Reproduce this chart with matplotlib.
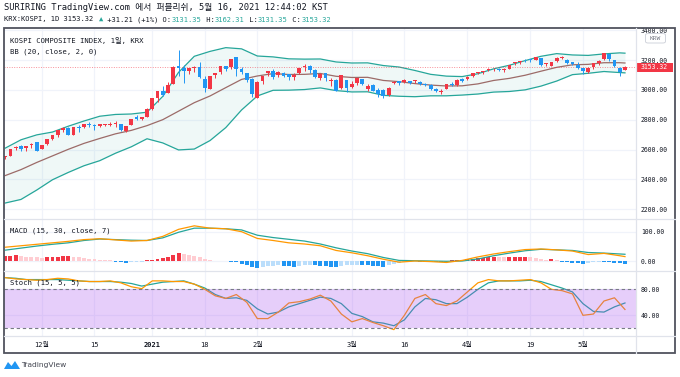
import matplotlib
matplotlib.use('Agg')
import matplotlib.pyplot as plt
from matplotlib.patches import Rectangle, FancyBboxPatch, Polygon
from matplotlib.lines import Line2D

W, H = 680, 377
MONO = ['DejaVu Sans Mono', 'Noto Sans CJK KR']
plt.rcParams['font.family'] = MONO

# ---------------- data ----------------
nov = [20, 23, 24, 25, 26, 27, 30]
dec = [1, 2, 3, 4, 7, 8, 9, 10, 11, 14, 15, 16, 17, 18, 21, 22, 23, 24, 28, 29, 30]
jan = [4, 5, 6, 7, 8, 11, 12, 13, 14, 15, 18, 19, 20, 21, 22, 25, 26, 27, 28, 29]
feb = [1, 2, 3, 4, 5, 8, 9, 10, 15, 16, 17, 18, 19, 22, 23, 24, 25, 26]
mar = [2, 3, 4, 5, 8, 9, 10, 11, 12, 15, 16, 17, 18, 19, 22, 23, 24, 25, 26, 29, 30, 31]
apr = [1, 2, 5, 6, 7, 8, 9, 12, 13, 14, 15, 16, 19, 20, 21, 22, 23, 26, 27, 28, 29, 30]
may = [3, 4, 6, 7, 10, 11, 12, 13, 14]
dates = ([f'2020-11-{d:02d}' for d in nov] + [f'2020-12-{d:02d}' for d in dec]
         + [f'2021-01-{d:02d}' for d in jan] + [f'2021-02-{d:02d}' for d in feb]
         + [f'2021-03-{d:02d}' for d in mar] + [f'2021-04-{d:02d}' for d in apr]
         + [f'2021-05-{d:02d}' for d in may])

opens = [2548, 2560, 2612, 2626, 2608, 2630, 2648, 2606, 2637, 2673,
         2696, 2731, 2746, 2700, 2755, 2751, 2775, 2766, 2760, 2768,
         2765, 2770, 2770, 2727, 2765, 2820, 2806, 2820, 2874, 2943,
         2993, 2980, 3040, 3161, 3145, 3128, 3145, 3153, 3071, 3010,
         3099, 3120, 3163, 3155, 3218, 3140, 3112, 3074, 2946, 3063,
         3111, 3130, 3098, 3114, 3108, 3085, 3114, 3155, 3162, 3132,
         3083, 3112, 3060, 3070, 3013, 3069, 3018, 3045, 3075, 3010,
         3034, 2997, 2998, 2964, 3049, 3057, 3052, 3058, 3060, 3052,
         3036, 3032, 3005, 2988, 3009, 3042, 3036, 3074, 3071, 3091,
         3117, 3124, 3133, 3138, 3143, 3133, 3143, 3180, 3186, 3201,
         3206, 3203, 3213, 3176, 3162, 3193, 3214, 3203, 3187, 3171,
         3146, 3121, 3151, 3180, 3206, 3239, 3198, 3150, 3131.35]
highs = [2560, 2603, 2624, 2632, 2626, 2643, 2648, 2634, 2673, 2696,
         2731, 2750, 2750, 2755, 2762, 2770, 2783, 2770, 2772, 2775,
         2786, 2790, 2771, 2761, 2806, 2834, 2822, 2878, 2946, 2990,
         3027, 3055, 3161, 3266, 3167, 3150, 3160, 3189, 3096, 3092,
         3115, 3160, 3163, 3209, 3220, 3157, 3112, 3080, 3057, 3097,
         3130, 3138, 3125, 3124, 3108, 3111, 3148, 3173, 3165, 3138,
         3111, 3117, 3083, 3071, 3099, 3070, 3057, 3083, 3076, 3038,
         3038, 3014, 3006, 3017, 3060, 3060, 3071, 3061, 3066, 3057,
         3044, 3038, 3013, 3010, 3041, 3051, 3075, 3079, 3095, 3115,
         3123, 3130, 3147, 3145, 3147, 3145, 3170, 3187, 3195, 3205,
         3208, 3221, 3213, 3180, 3190, 3222, 3228, 3207, 3190, 3188,
         3147, 3151, 3178, 3198, 3249, 3239, 3200, 3151, 3162.31]
lows = [2540, 2555, 2600, 2593, 2594, 2613, 2591, 2601, 2632, 2664,
        2686, 2720, 2695, 2695, 2720, 2745, 2753, 2732, 2751, 2757,
        2756, 2752, 2727, 2720, 2763, 2799, 2796, 2819, 2869, 2921,
        2961, 2980, 3040, 3096, 3047, 3105, 3118, 3083, 2988, 3005,
        3080, 3109, 3125, 3141, 3097, 3104, 3052, 2955, 2946, 3043,
        3097, 3075, 3086, 3084, 3067, 3066, 3107, 3128, 3115, 3079,
        3070, 3062, 3030, 2990, 3010, 2987, 3012, 3034, 3036, 2993,
        2992, 2950, 2946, 2957, 3042, 3033, 3045, 3041, 3048, 3032,
        3026, 3001, 2987, 2970, 3006, 3026, 3030, 3055, 3066, 3090,
        3106, 3108, 3130, 3125, 3129, 3120, 3140, 3170, 3177, 3190,
        3187, 3199, 3162, 3158, 3162, 3187, 3205, 3173, 3168, 3144,
        3105, 3112, 3144, 3170, 3202, 3192, 3156, 3096, 3131.35]
closes = [2553, 2602, 2617, 2601, 2625, 2633, 2591, 2634, 2672, 2696,
          2731, 2745, 2700, 2755, 2746, 2770, 2762, 2756, 2771, 2770,
          2772, 2778, 2733, 2759, 2806, 2808, 2820, 2873, 2944, 2990,
          2968, 3031, 3152, 3148, 3125, 3148, 3149, 3085, 3013, 3092,
          3114, 3160, 3140, 3208, 3140, 3122, 3069, 2976, 3056, 3096,
          3129, 3087, 3120, 3091, 3084, 3100, 3147, 3163, 3133, 3086,
          3107, 3079, 3070, 2994, 3099, 3012, 3043, 3082, 3043, 3026,
          2996, 2976, 2958, 3013, 3054, 3045, 3067, 3047, 3066, 3039,
          3035, 3004, 2996, 2996, 3041, 3036, 3070, 3061, 3087, 3112,
          3120, 3127, 3137, 3143, 3131, 3135, 3169, 3182, 3194, 3198,
          3198, 3220, 3171, 3177, 3186, 3217, 3215, 3181, 3174, 3147,
          3127, 3147, 3178, 3197, 3249, 3209, 3161, 3122, 3153.32]

# Bollinger (20, 2) read every 3rd bar
bb_at = list(range(0, 118, 3)) + [118]
bb_basis = [2426, 2466, 2514, 2558, 2602, 2642, 2675, 2706, 2729, 2761,
            2801, 2858, 2915, 2960, 3016, 3071, 3094, 3110, 3104, 3105,
            3111, 3092, 3084, 3085, 3064, 3056, 3043, 3033, 3027, 3028,
            3041, 3064, 3078, 3099, 3126, 3152, 3169, 3172, 3183, 3183, 3181]
bb_upper = [2610, 2666, 2699, 2718, 2757, 2792, 2824, 2836, 2839, 2851,
            2957, 3118, 3226, 3259, 3284, 3276, 3228, 3222, 3209, 3207,
            3208, 3188, 3181, 3182, 3164, 3154, 3131, 3105, 3093, 3090,
            3109, 3142, 3166, 3197, 3226, 3244, 3235, 3232, 3242, 3249, 3247]
bb_lower = [2242, 2266, 2329, 2398, 2447, 2492, 2526, 2576, 2619, 2673,
            2645, 2598, 2604, 2661, 2748, 2866, 2960, 2998, 2999, 3003,
            3014, 2996, 2987, 2988, 2964, 2958, 2955, 2961, 2961, 2966,
            2973, 2986, 2990, 3001, 3026, 3060, 3103, 3112, 3124, 3117, 3115]

# MACD (15, 30, 7)
macd_line = [47, 52, 57, 62, 67, 73, 76, 72, 68, 70,
             84, 108, 120, 112, 110, 100, 77, 70, 62, 58,
             52, 36, 28, 18, 6, -4, 0, -2, -5, 2,
             14, 24, 32, 39, 41, 38, 34, 22, 26, 18, 15]
macd_signal = [37, 44, 51, 57, 62, 70, 75, 73, 71, 70,
               79, 98, 112, 112, 110, 106, 88, 80, 74, 68,
               58, 45, 34, 25, 12, 2, 1, 0, -1, 0,
               7, 18, 27, 35, 40, 38, 36, 29, 27, 24, 23]
macd_hist = [16, 18, 19, 18, 15, 14, 12, 11, 12, 14,
             15, 16, 18, 15, 12, 9, 8, 6, 5, 3,
             2, -2, -4, -6, -5, -3, -2, 2, 5, 8,
             11, 15, 21, 26, 25, 22, 18, 12, 6, 2,
             1, 0.5, -1, -2, -5, -9, -15, -20, -23, -21,
             -18, -16, -15, -16, -18, -19, -18, -15, -13, -15,
             -16, -18, -19, -21, -18, -15, -13, -12, -13, -15,
             -16, -18, -19, -14, -9, -6, -3, -2, 1, -2,
             -2.5, -3, -4, -4.5, -3, 2, 3, 5, 6, 8,
             9, 11, 12, 13, 12.5, 12, 12.5, 13, 14, 15,
             13, 10, 7, 5, 6, 3, -2, -4, -6, -8,
             -10, -8, -5, -3, -4, -5, -6, -8, -9]

# Stoch (15, 5, 5) read every 2nd bar
st_at = list(range(0, 119, 2))
stoch_k = [98, 96, 95, 94, 95, 97, 96, 93, 92, 92,
           93, 90, 84, 81, 93, 93, 92, 92, 88, 80,
           70, 66, 72, 60, 35, 35, 45, 59, 61, 65,
           71, 62, 42, 30, 35, 29, 24, 18, 40, 66,
           72, 58, 55, 62, 76, 90, 95, 93, 93, 94,
           95, 90, 80, 78, 73, 40, 42, 62, 67, 49]
stoch_d = [98, 97, 95, 95, 95, 95, 94, 93, 92, 92,
           92, 91, 89, 85, 88, 91, 92, 93, 88, 82,
           72, 66, 67, 63, 50, 42, 45, 53, 58, 63,
           68, 66, 58, 43, 38, 30, 28, 24, 33, 53,
           66, 64, 58, 58, 68, 80, 90, 93, 93, 93,
           94, 92, 87, 82, 76, 58, 46, 45, 53, 59]

tick_dates = ['2020-12-01', '2020-12-15', '2021-01-04', '2021-01-18', '2021-02-01',
              '2021-03-02', '2021-03-16', '2021-04-01', '2021-04-19', '2021-05-03']
tick_labels = ['12월', '15', '2021', '18', '2월', '3월', '16', '4월', '19', '5월']
price_ticks = [2200, 2400, 2600, 2800, 3000, 3200, 3400]
macd_ticks = [0, 100]
stoch_ticks = [40, 80]

# ---------------- styles ----------------
UP, DOWN = '#f23645', '#2196f3'
TEAL, ORANGE, BASIS = '#26a69a', '#ff9800', '#9c6b68'
GRID, SEP, TXT = '#f0f3fa', '#e0e3eb', '#131722'
LEFT, RIGHT, FRAME_R = 4, 636, 675

fig = plt.figure(figsize=(W / 100, H / 100), dpi=100)
fig.patch.set_facecolor('white')
xs = list(range(len(dates)))
tick_pos = [dates.index(d) for d in tick_dates]


def fig_y(y):
    return 1 - y / H


def panel(top, bottom, ylim, yticks):
    ax = fig.add_axes([LEFT / W, fig_y(bottom), (RIGHT - LEFT) / W, (bottom - top) / H])
    ax.set_xlim(-0.23, 120.1)
    ax.set_ylim(*ylim)
    for s in ax.spines.values():
        s.set_visible(False)
    ax.yaxis.tick_right()
    ax.set_yticks(yticks)
    ax.set_yticklabels([f'{t:.2f}' for t in yticks])
    ax.set_xticks(tick_pos)
    ax.tick_params(length=0, labelsize=4.7, labelcolor=TXT, pad=3.6)
    ax.tick_params(axis='x', labelbottom=False)
    ax.grid(True, color=GRID, lw=0.9)
    ax.set_axisbelow(True)
    return ax


ax_p = panel(28, 219, (2134.8, 3415.8), price_ticks)
ax_m = panel(219, 271, (-34.1, 143.3), macd_ticks)
ax_s = panel(271, 336, (8.2, 108.2), stoch_ticks)

# candles + bollinger bands
cols = [UP if c >= o else DOWN for o, c in zip(opens, closes)]
body_lo = [min(o, c) for o, c in zip(opens, closes)]
body_h = [max(abs(c - o), 6) for o, c in zip(opens, closes)]
ax_p.fill_between(bb_at, bb_lower, bb_upper, color=TEAL, alpha=0.07, lw=0, zorder=1)
ax_p.plot(bb_at, bb_upper, color=TEAL, lw=0.9, zorder=2)
ax_p.plot(bb_at, bb_lower, color=TEAL, lw=0.9, zorder=2)
ax_p.plot(bb_at, bb_basis, color=BASIS, lw=0.9, zorder=2)
ax_p.axhline(closes[-1], color=UP, alpha=0.55, lw=0.7, ls=(0, (1, 1.5)), zorder=2)
ax_p.vlines(xs, lows, highs, colors=cols, lw=0.7, zorder=3)
ax_p.bar(xs, body_h, bottom=body_lo, width=0.72, color=cols, lw=0, zorder=4)

# macd
hist_cols = []
prev = 0
for h in macd_hist:
    if h >= 0:
        hist_cols.append('#f23645' if h > prev else '#ffcdd2')
    else:
        hist_cols.append('#2196f3' if h < prev else '#bbdefb')
    prev = h
ax_m.bar(xs, macd_hist, width=0.75, color=hist_cols, lw=0, zorder=2)
ax_m.plot(bb_at, macd_signal, color=TEAL, lw=0.9, zorder=3)
ax_m.plot(bb_at, macd_line, color=ORANGE, lw=0.9, zorder=4)

# stoch
ax_s.plot(st_at, stoch_d, color=TEAL, lw=0.9, zorder=3)
ax_s.plot(st_at, stoch_k, color=ORANGE, lw=0.9, zorder=3)
ax_s.axhspan(20, 80, color='#a64bf0', alpha=0.27, lw=0, zorder=5)
for lvl in (20, 80):
    ax_s.axhline(lvl, color='#787b86', lw=0.8, ls=(0, (3, 2.5)), zorder=6)
ax_s.tick_params(axis='x', labelbottom=True, labelsize=5, pad=4)
ax_s.set_xticklabels(tick_labels)
ax_s.get_xticklabels()[tick_labels.index('2021')].set_fontweight('bold')


# separators and frame (figure pixel coords)
def fig_line(x0, y0, x1, y1, **kw):
    fig.add_artist(Line2D([x0 / W, x1 / W], [fig_y(y0), fig_y(y1)], transform=fig.transFigure, **kw))


for yy in (219, 271, 336):
    fig_line(LEFT, yy, FRAME_R, yy, color=SEP, lw=0.9)
fig_line(RIGHT, 28, RIGHT, 353, color=SEP, lw=0.9)
fig.add_artist(Rectangle((LEFT / W, fig_y(353)), (FRAME_R - LEFT) / W, (353 - 28) / H,
                         transform=fig.transFigure, fill=False, ec='#50535e', lw=1.3))

# last price label
fig.canvas.draw()
py = fig.canvas.get_width_height()[1] - ax_p.transData.transform((0, closes[-1]))[1]
fig.add_artist(Rectangle((RIGHT / W, fig_y(py + 4.5)), 37 / W, 9 / H,
                         transform=fig.transFigure, fc=UP, ec='none'))
fig.text((RIGHT + 5) / W, fig_y(py), f'{closes[-1]:.2f}', color='white',
         fontsize=4.7, va='center', ha='left')

# KRW box
fig.add_artist(FancyBboxPatch((645.5 / W, fig_y(43)), 20 / W, 9.5 / H,
                              boxstyle='round,pad=0,rounding_size=0.004',
                              transform=fig.transFigure, fc='white', ec='#d1d4dc', lw=0.7))
fig.text(655.5 / W, fig_y(38.2), 'KRW', color='#787b86', fontsize=4.5, ha='center', va='center')


def fig_text(x, y, s, **kw):
    return fig.text(x / W, fig_y(y), s, va='center', ha='left', **kw)


# header
fig_text(4, 8, 'SURIRING TradingView.com 에서 퍼블리쉬, 5월 16, 2021 12:44:02 KST',
         color=TXT, fontsize=6.3)
pieces = [('KRX:KOSPI, 1D 3153.32 ', TXT), ('▲', TEAL), (' +31.21 (+1%) O:', TXT),
          ('3131.35', TEAL), (' H:', TXT), ('3162.31', TEAL), (' L:', TXT),
          ('3131.35', TEAL), (' C:', TXT), ('3153.32', TEAL)]
hx = 4
hsize = 5.15
for s, c in pieces:
    fig_text(hx, 19.5, s, color=c, fontsize=hsize)
    hx += len(s) * 0.602 * hsize * 100 / 72

# pane legends
fig_text(10, 40.5, 'KOSPI COMPOSITE INDEX, 1일, KRX', color=TXT, fontsize=5.2)
fig_text(10, 51.5, 'BB (20, close, 2, 0)', color=TXT, fontsize=5.2)
fig_text(10, 231, 'MACD (15, 30, close, 7)', color=TXT, fontsize=5.2)
fig_text(10, 283, 'Stoch (15, 5, 5)', color=TXT, fontsize=5.2)

# TradingView logo
fig.add_artist(Polygon([(4 / W, fig_y(369)), (8 / W, fig_y(362)), (11.5 / W, fig_y(366)),
                        (15 / W, fig_y(361)), (20 / W, fig_y(369))],
                       closed=True, transform=fig.transFigure, fc='#2196f3', ec='none'))
fig.text(21 / W, fig_y(365), 'TradingView', family='DejaVu Sans', color='#434651',
         fontsize=5.4, va='center', ha='left')

fig.savefig('out.png', dpi=100, facecolor='white')
